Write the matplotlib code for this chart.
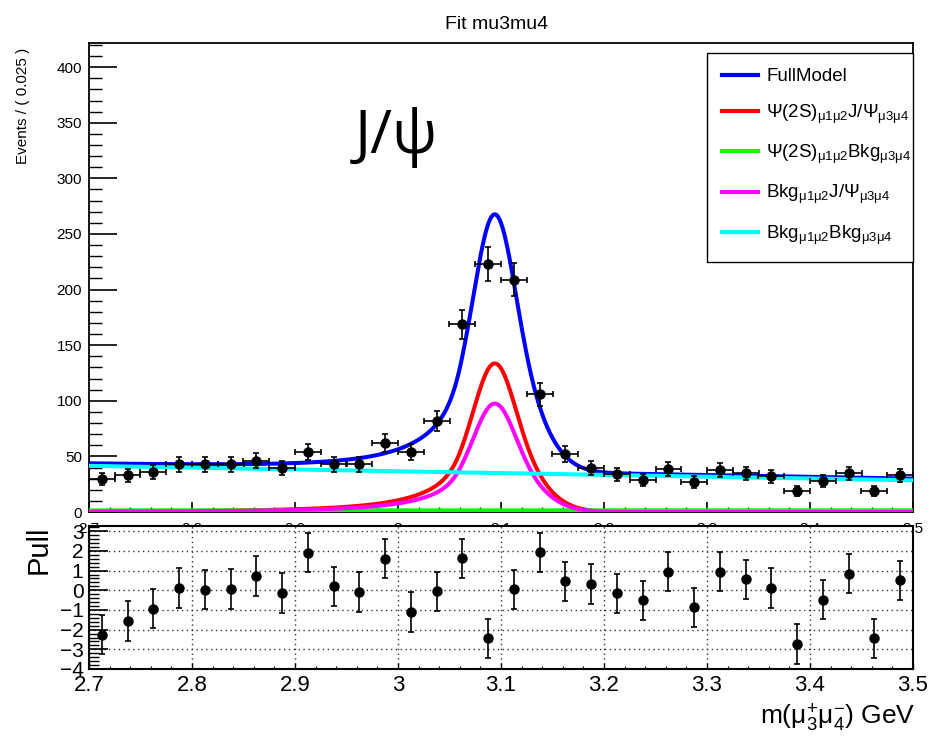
import numpy as np
import matplotlib
matplotlib.use("Agg")
import matplotlib.pyplot as plt
from matplotlib.ticker import MultipleLocator, FixedLocator
from matplotlib.lines import Line2D

plt.rcParams['font.family'] = ['Liberation Sans', 'DejaVu Sans']
plt.rcParams['mathtext.fontset'] = 'custom'
plt.rcParams['mathtext.rm'] = 'Liberation Sans'
plt.rcParams['mathtext.it'] = 'Liberation Sans'
plt.rcParams['mathtext.bf'] = 'Liberation Sans:bold'
plt.rcParams['mathtext.default'] = 'regular'

# ---------------- data ----------------
bin_centers = [2.7125, 2.7375, 2.7625, 2.7875, 2.8125, 2.8375, 2.8625, 2.8875,
               2.9125, 2.9375, 2.9625, 2.9875, 3.0125, 3.0375, 3.0625, 3.0875,
               3.1125, 3.1375, 3.1625, 3.1875, 3.2125, 3.2375, 3.2625, 3.2875,
               3.3125, 3.3375, 3.3625, 3.3875, 3.4125, 3.4375, 3.4625, 3.4875]
bin_half_width = 0.0125
counts = [30, 33, 36, 43, 43, 43, 46, 40,
          54, 43, 43, 62, 54, 82, 169, 223,
          209, 106, 52, 40, 34, 29, 39, 27,
          38, 35, 32, 19, 28, 35, 19, 33]
count_errors = [5.5, 5.7, 6.0, 6.6, 6.6, 6.6, 6.8, 6.3,
                7.3, 6.6, 6.6, 7.9, 7.3, 9.1, 13.0, 14.9,
                14.5, 10.3, 7.2, 6.3, 5.8, 5.4, 6.2, 5.2,
                6.2, 5.9, 5.7, 4.4, 5.3, 5.9, 4.4, 5.7]
pulls = [-2.26, -1.57, -0.94, 0.12, 0.03, 0.07, 0.73, -0.14,
         1.91, 0.20, -0.09, 1.61, -1.11, -0.05, 1.62, -2.44,
         0.05, 1.93, 0.46, 0.31, -0.15, -0.51, 0.94, -0.87,
         0.94, 0.55, 0.12, -2.73, -0.48, 0.85, -2.44, 0.50]
pull_errors = [1.0] * 32

# fit-model parameters
mass_range = (2.7, 3.5)
peak_mean = 3.094
core_fraction = 0.45
core_sigma = 0.018
wide_sigma = 0.033
tail_alpha = 1.0
tail_n = 3.0
peak_psi2s_jpsi = 133.6
peak_bkg_jpsi = 97.5
level_psi2s_bkg = 1.5
bkg_bkg_ends = (41.5, 28.5)

legend_labels = ['FullModel',
                 r'$\Psi$(2S)$_{\mu1\mu2}$J/$\Psi_{\mu3\mu4}$',
                 r'$\Psi$(2S)$_{\mu1\mu2}$Bkg$_{\mu3\mu4}$',
                 r'Bkg$_{\mu1\mu2}$J/$\Psi_{\mu3\mu4}$',
                 r'Bkg$_{\mu1\mu2}$Bkg$_{\mu3\mu4}$']
colors = ['#0000ff', '#ff0000', '#00ff00', '#ff00ff', '#00ffff']
x_tick_values = [2.7, 2.8, 2.9, 3.0, 3.1, 3.2, 3.3, 3.4, 3.5]
x_tick_labels = ['2.7', '2.8', '2.9', '3', '3.1', '3.2', '3.3', '3.4', '3.5']
pull_tick_values = [-4, -3, -2, -1, 0, 1, 2, 3]
pull_tick_labels = ['\u22124', '\u22123', '\u22122', '\u22121', '0', '1', '2', '3']


def peak_shape(x):
    d = np.asarray(x) - peak_mean
    core = np.exp(-0.5 * (d / core_sigma) ** 2)
    t = d / wide_sigma
    A = (tail_n / tail_alpha) ** tail_n * np.exp(-0.5 * tail_alpha ** 2)
    B = tail_n / tail_alpha - tail_alpha
    wide = np.where(t < -tail_alpha,
                    A * np.power(np.abs(B - t), -tail_n),
                    np.exp(-0.5 * t ** 2))
    return core_fraction * core + (1 - core_fraction) * wide


xs = np.linspace(mass_range[0], mass_range[1], 1201)
shape = peak_shape(xs)
curve_sig = peak_psi2s_jpsi * shape
curve_bkgjpsi = peak_bkg_jpsi * shape
curve_psibkg = np.full_like(xs, level_psi2s_bkg)
curve_bkg = bkg_bkg_ends[0] + (bkg_bkg_ends[1] - bkg_bkg_ends[0]) * (xs - mass_range[0]) / (mass_range[1] - mass_range[0])
curve_full = curve_sig + curve_bkgjpsi + curve_psibkg + curve_bkg

# ---------------- figure ----------------
W, H = 930, 742
fig = plt.figure(figsize=(W / 100, H / 100), dpi=100)

ax = fig.add_axes([89 / W, 1 - 512 / H, 824 / W, (512 - 42.7) / H])
ax.set_xlim(*mass_range)
ax.set_ylim(0, 422)

lw = 2.9
ax.plot(xs, curve_full, color=colors[0], lw=lw, zorder=3)
ax.plot(xs, curve_sig, color=colors[1], lw=lw, zorder=3)
ax.plot(xs, curve_psibkg, color=colors[2], lw=lw, zorder=3)
ax.plot(xs, curve_bkgjpsi, color=colors[3], lw=lw, zorder=3)
ax.plot(xs, curve_bkg, color=colors[4], lw=lw, zorder=3)

ax.errorbar(bin_centers, counts, xerr=bin_half_width, yerr=count_errors,
            fmt='o', color='black', ms=6.5, elinewidth=1.2, capsize=2.2,
            capthick=1.2, zorder=5)

ax.yaxis.set_major_locator(MultipleLocator(50))
ax.yaxis.set_minor_locator(MultipleLocator(10))
ax.set_xticks(x_tick_values)
ax.set_xticklabels(x_tick_labels)
ax.xaxis.set_minor_locator(MultipleLocator(0.02))
ax.tick_params(axis='y', which='major', direction='in', length=20, width=1.2,
               labelsize=11, pad=5, right=False)
ax.tick_params(axis='y', which='minor', direction='in', length=9.5, width=1.0, right=False)
ax.tick_params(axis='x', which='major', direction='in', length=7, width=1.2,
               labelsize=11, pad=7.5, top=False)
ax.tick_params(axis='x', which='minor', direction='in', length=3.6, width=1.0, top=False)
for s in ax.spines.values():
    s.set_linewidth(1.3)

handles = [Line2D([], [], color=c, lw=3) for c in colors]
leg = ax.legend(handles, legend_labels, loc='upper left',
                bbox_to_anchor=(0.75, 0.978, 0.25, 0), mode='expand',
                fontsize=13.5, handlelength=1.9, handletextpad=0.45,
                labelspacing=0.92, borderpad=0.8, borderaxespad=0,
                frameon=True, fancybox=False, edgecolor='black', framealpha=1)
leg.get_frame().set_linewidth(1.0)

# ---------------- pull panel ----------------
axp = fig.add_axes([89 / W, 1 - 669 / H, 824 / W, (669 - 525.7) / H])
axp.set_facecolor('white')
axp.set_xlim(*mass_range)
axp.set_ylim(-4, 3.28)
axp.errorbar(bin_centers, pulls, yerr=pull_errors, fmt='o', color='black',
             ms=6.5, elinewidth=1.2, capsize=2.2, capthick=1.2, zorder=5)
axp.yaxis.set_major_locator(FixedLocator(pull_tick_values))
axp.yaxis.set_minor_locator(MultipleLocator(0.2))
axp.set_yticklabels(pull_tick_labels)
axp.set_xticks(x_tick_values)
axp.set_xticklabels(x_tick_labels)
axp.xaxis.set_minor_locator(MultipleLocator(0.02))
axp.tick_params(axis='y', which='major', direction='in', length=14, width=1.2,
                labelsize=15, pad=4, right=False)
axp.tick_params(axis='y', which='minor', direction='in', length=7, width=1.0, right=False)
axp.tick_params(axis='x', which='major', direction='in', length=4, width=1.0,
                labelsize=16, pad=4, top=False)
axp.tick_params(axis='x', which='minor', direction='in', length=2, width=0.8, top=False)
axp.grid(True, which='major', linestyle=(0, (1, 2.5)), color='#333333', linewidth=1.0)
axp.set_axisbelow(True)
for s in axp.spines.values():
    s.set_linewidth(1.5)

# ---------------- texts ----------------
fig.text(497 / W, 1 - 29 / H, 'Fit mu3mu4', ha='center', va='baseline', fontsize=14)
fig.text(23 / W, 1 - 105.5 / H, 'Events / ( 0.025 )', rotation=90,
         ha='center', va='center', fontsize=11)
fig.text(355 / W, 1 - 153 / H, 'J/\u03c8', ha='left', va='baseline',
         fontsize=43, family=['Open Sans', 'DejaVu Sans'])
fig.text(39 / W, 1 - 550 / H, 'Pull', rotation=90, ha='center', va='center', fontsize=21)
fig.text(915 / W, 1 - 725 / H, r'm($\mu^{+}_{3}\mu^{-}_{4}$) GeV',
         ha='right', va='baseline', fontsize=19)

fig.savefig('out.png', dpi=100)
